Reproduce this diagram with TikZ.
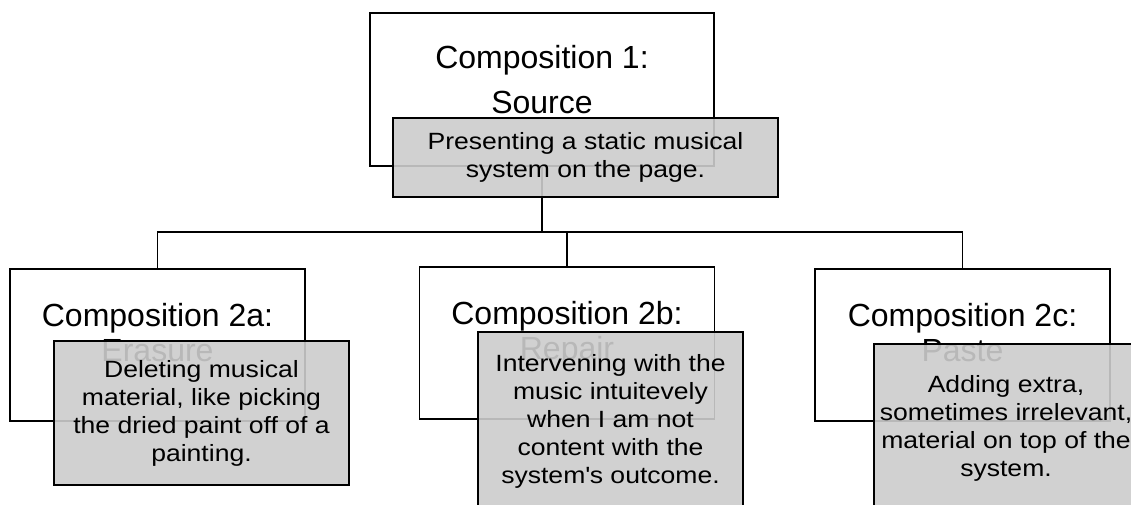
\documentclass[tikz,border=0pt]{standalone}
\usepackage{fontspec}
\setmainfont{Liberation Sans}
\newfontfamily\notefont{Liberation Sans}[FakeStretch=1.13]
\begin{document}
\begin{tikzpicture}[x=1pt,y=-1pt,
  compbox/.style={draw,line width=1.8pt,fill=white,align=center,
    minimum width=295pt,minimum height=152pt,text depth=25pt,
    font=\fontsize{32}{35}\selectfont},
  notebox/.style={draw,line width=1.8pt,fill=black!20,fill opacity=0.9,
    text opacity=1,draw opacity=1,align=center,inner sep=0pt,
    font=\notefont\fontsize{23.5}{28}\selectfont},
  link/.style={line width=1.8pt}]
\clip (0,0) rectangle (1131,504);

% Source box
\node[compbox,minimum width=344pt,minimum height=153pt,text depth=21pt,
  font=\fontsize{32}{45}\selectfont] (src) at (542,89.5) {Composition 1:\\Source};

% Second row
\node[compbox] (erase) at (157.5,345) {Composition 2a:\\Erasure};
\node[compbox] (repair) at (567,343) {Composition 2b:\\Repair};
\node[compbox] (paste) at (962.5,345) {Composition 2c:\\Paste};

% Connectors
\coordinate (bar) at (542,232);
\draw[link] (src.south) -- (bar) -| (erase.north);
\draw[link] (bar) -| (repair.north);
\draw[link] (bar) -| (paste.north);

% Notes on top
\node[notebox,minimum width=385pt,minimum height=79pt] (srcnote) at (585.5,157.5)
  {Presenting a static musical\\system on the page.};
\node[notebox,minimum width=295pt,minimum height=144pt] (erasenote) at (201.5,413)
  {Deleting musical\\material, like picking\\the dried paint off of a\\painting.};
\node[notebox,minimum width=265pt,minimum height=178pt] (repairnote) at (610.5,421)
  {Intervening with the\\music intuitevely\\when I am not\\content with the\\system\textquotesingle s outcome.};
\node[notebox,minimum width=264pt,minimum height=169pt] (pastenote) at (1006,428.4)
  {Adding extra,\\sometimes irrelevant,\\material on top of the\\system.};

\end{tikzpicture}
\end{document}
